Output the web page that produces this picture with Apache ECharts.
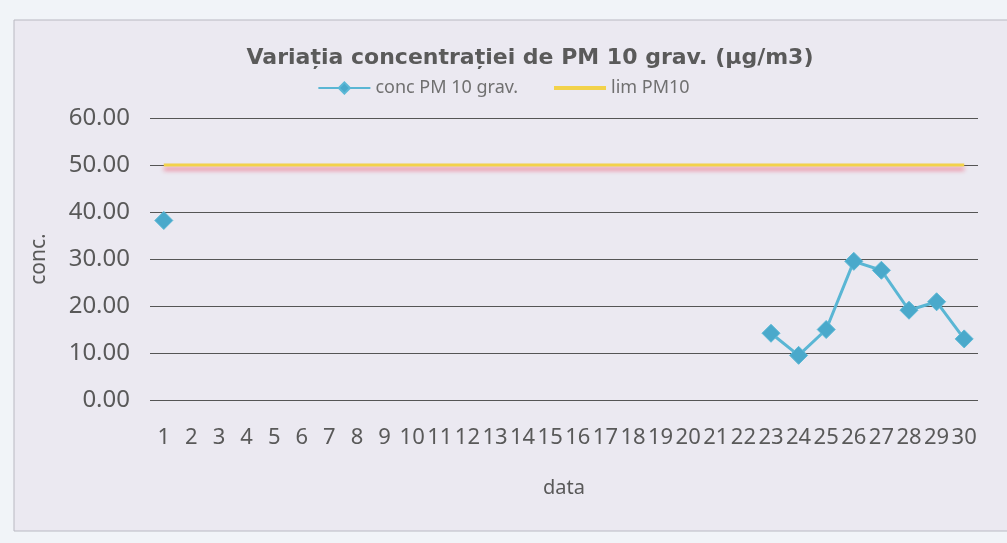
<!DOCTYPE html>
<html>
<head>
<meta charset="utf-8">
<title>PM 10 grav.</title>
<script src="https://cdn.jsdelivr.net/npm/echarts@6/dist/echarts.min.js"></script>
<style>
    html, body { margin: 0; padding: 0; background: #f1f4f8; }
    #main { width: 1007px; height: 543px; }
</style>
</head>
<body>
<div id="main"></div>
<script>
// zilele lunii
var days = [];
for (var d = 1; d <= 30; d++) { days.push(String(d)); }

// concentratii (lipsa = null)
var concPM10 = [38.2, null, null, null, null, null, null, null, null, null,
    null, null, null, null, null, null, null, null, null, null,
    null, null, 14.2, 9.5, 15.0, 29.5, 27.6, 19.1, 20.9, 13.0];

// valoarea limita
var limPM10 = [50, 50, 50, 50, 50, 50, 50, 50, 50, 50,
    50, 50, 50, 50, 50, 50, 50, 50, 50, 50,
    50, 50, 50, 50, 50, 50, 50, 50, 50, 50];

var yTicks = [0, 10, 20, 30, 40, 50, 60];

var myChart = echarts.init(document.getElementById('main'));

var textColor = '#595959';

var option = {
    backgroundColor: '#f1f4f8',
    animation: false,
    graphic: [{
        type: 'rect',
        z: -10,
        shape: { x: 14, y: 20, width: 1010, height: 511 },
        style: { fill: '#ebe9f1', stroke: '#b9b9c2', lineWidth: 1 }
    }],
    title: {
        text: 'Variația concentrației de PM 10 grav. (µg/m3)',
        left: 525,
        textAlign: 'center',
        top: 42,
        textStyle: {
            fontFamily: 'DejaVu Sans',
            fontSize: 22,
            fontWeight: 'bold',
            color: '#5a5a5a'
        }
    },
    legend: {
        top: 74,
        left: 'center',
        itemWidth: 52,
        itemHeight: 14,
        itemGap: 36,
        textStyle: {
            fontFamily: 'Noto Sans',
            fontSize: 18,
            color: '#707070'
        },
        data: [
            'conc PM 10 grav.',
            { name: 'lim PM10', icon: 'path://M0,0H52V4H0Z' }
        ]
    },
    grid: {
        left: 150,
        right: 29,
        top: 118,
        bottom: 143
    },
    xAxis: {
        type: 'category',
        data: days,
        boundaryGap: true,
        name: 'data',
        nameLocation: 'middle',
        nameGap: 78,
        nameTextStyle: { fontFamily: 'Noto Sans', fontSize: 20, color: textColor },
        axisLine: { show: false },
        axisTick: { show: false },
        axisLabel: {
            interval: 0,
            margin: 27,
            fontFamily: 'Noto Sans',
            fontSize: 22,
            color: textColor
        }
    },
    yAxis: {
        type: 'value',
        min: yTicks[0],
        max: yTicks[yTicks.length - 1],
        interval: 10,
        name: 'conc.',
        nameLocation: 'middle',
        nameGap: 100,
        nameTextStyle: { fontFamily: 'Noto Sans', fontSize: 21, color: textColor },
        axisLine: { show: false },
        axisTick: { show: false },
        axisLabel: {
            margin: 20,
            fontFamily: 'Noto Sans',
            fontSize: 24,
            color: textColor,
            formatter: function (v) { return v.toFixed(2); }
        },
        splitLine: { lineStyle: { color: '#555555', width: 1 } }
    },
    series: [
        {
            name: 'lim PM10',
            type: 'line',
            data: limPM10,
            symbol: 'none',
            lineStyle: {
                color: '#f2d24a',
                width: 3,
                shadowColor: 'rgba(236,120,142,0.95)',
                shadowOffsetY: 4,
                shadowBlur: 4
            },
            itemStyle: { color: '#f2d24a' },
            z: 2
        },
        {
            name: 'conc PM 10 grav.',
            type: 'line',
            data: concPM10,
            connectNulls: false,
            symbol: 'diamond',
            symbolSize: 18,
            showAllSymbol: true,
            lineStyle: { color: '#5ab6d4', width: 3 },
            itemStyle: { color: '#4aa9cb', borderColor: '#5bb8d6', borderWidth: 1 },
            z: 3
        }
    ]
};

myChart.setOption(option);
</script>
</body>
</html>
